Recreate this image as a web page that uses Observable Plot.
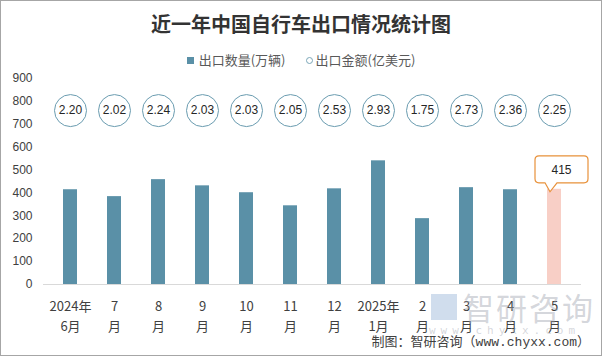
<!DOCTYPE html>
<html><head><meta charset="utf-8">
<script src="https://cdn.jsdelivr.net/npm/d3@7"></script>
<script src="https://cdn.jsdelivr.net/npm/@observablehq/plot@0.6"></script>
<style>
html,body{margin:0;padding:0;background:#fff;}
#wrap{position:relative;width:602px;height:356px;overflow:hidden;font-family:"Noto Sans CJK SC",sans-serif;background:#fff;}
#border{position:absolute;left:0;top:0;width:600px;height:354px;border:1px solid #a6a6a6;pointer-events:none;}
#title{position:absolute;top:10px;left:0;width:602px;text-align:center;font-size:20px;font-weight:bold;color:#333;line-height:28px;}
#legend{position:absolute;top:50px;left:0;width:602px;display:flex;justify-content:center;align-items:center;font-size:13px;color:#595959;line-height:20px;}
#legend .sq{width:7px;height:7px;background:#5a90a7;margin-right:5px;}
#legend .ring{width:5px;height:5px;border:1px solid #7aa6b8;border-radius:50%;margin-right:3px;}
#legend .item{display:flex;align-items:center;}
#chart{position:absolute;left:0;top:65px;}
#wm{position:absolute;left:425px;top:290px;color:rgba(160,165,175,0.45);pointer-events:none;}
#wm .big{font-size:31px;letter-spacing:2px;line-height:34px;padding-left:38px;}
#wm .logo{position:absolute;left:6px;top:4px;width:26px;height:26px;background:rgba(150,180,215,0.45);}
#wm .url{font-family:"DejaVu Sans Mono",monospace;font-size:11px;letter-spacing:5px;line-height:14px;padding-left:4px;}
#caption{position:absolute;right:12px;top:333px;font-size:13px;color:#404040;font-family:"Liberation Mono","Noto Sans CJK SC",monospace;line-height:20px;}
</style></head>
<body>
<div id="wrap">
  <div id="title">近一年中国自行车出口情况统计图</div>
  <div id="legend">
    <div class="item"><div class="sq"></div><span>出口数量(万辆)</span></div>
    <div class="item" style="margin-left:20px"><div class="ring"></div><span>出口金额(亿美元)</span></div>
  </div>
  <div id="chart"></div>
  <div id="wm"><div class="logo"></div><div class="big">智研咨询</div><div class="url">www.chyxx.com</div></div>
  <div id="caption">制图：智研咨询（www.chyxx.com）</div>
  <div id="border"></div>
</div>
<script>
const months = ["2024年\n6月","7\n月","8\n月","9\n月","10\n月","11\n月","12\n月","2025年\n1月","2\n月","3\n月","4\n月","5\n月"];
const quantity = [413, 383, 457, 430, 400, 343, 417, 539, 287, 422, 413, 415];
const value = [2.20, 2.02, 2.24, 2.03, 2.03, 2.05, 2.53, 2.93, 1.75, 2.73, 2.36, 2.25];
const yTicks = [0,100,200,300,400,500,600,700,800,900];
const LABEL_ROW = 758;

const data = months.map((m, i) => ({month: m, qty: quantity[i], val: value[i], last: i === months.length - 1}));
const lastRow = data[data.length - 1];

function callout(index, scales) {
  const x = scales.x, y = scales.y;
  let bw = 0;
  if (x.bandwidth != null) bw = typeof x.bandwidth === "function" ? x.bandwidth() : x.bandwidth;
  const cx = x(lastRow.month) + bw / 2;
  const top = y(lastRow.qty);
  const ns = "http://www.w3.org/2000/svg";
  const g = document.createElementNS(ns, "g");
  const L = cx - 19, R = cx + 34, T = top - 33, B = top - 6, r = 4;
  const d = `M${L + r},${T} H${R - r} Q${R},${T} ${R},${T + r} V${B - r} Q${R},${B} ${R - r},${B} H${cx + 3} L${cx - 4},${top + 3} L${cx - 9},${B} H${L + r} Q${L},${B} ${L},${B - r} V${T + r} Q${L},${T} ${L + r},${T} Z`;
  const p = document.createElementNS(ns, "path");
  p.setAttribute("d", d);
  p.setAttribute("fill", "white");
  p.setAttribute("stroke", "#e8913a");
  p.setAttribute("stroke-width", "1.2");
  g.appendChild(p);
  const t = document.createElementNS(ns, "text");
  t.setAttribute("x", cx + 7.5);
  t.setAttribute("y", top - 19);
  t.setAttribute("text-anchor", "middle");
  t.setAttribute("dominant-baseline", "central");
  t.setAttribute("font-size", "12");
  t.setAttribute("fill", "#262626");
  t.textContent = String(lastRow.qty);
  g.appendChild(t);
  return g;
}

const plot = Plot.plot({
  width: 602,
  height: 280,
  marginTop: 12.5,
  marginBottom: 61,
  marginLeft: 43,
  marginRight: 21,
  style: {fontFamily: "'Liberation Sans','Noto Sans CJK SC',sans-serif", color: "#404040", background: "transparent"},
  x: {domain: months, paddingInner: 0.69, paddingOuter: 0.345, label: null},
  y: {domain: [0, 900], label: null},
  marks: [
    Plot.barY(data.filter(d => !d.last), {x: "month", y: "qty", fill: "#5a90a7"}),
    Plot.barY(data.filter(d => d.last), {x: "month", y: "qty", fill: "#f8cfc6"}),
    Plot.ruleY([0], {stroke: "#d9d9d9", strokeWidth: 1}),
    Plot.axisY({ticks: yTicks, tickSize: 0, tickPadding: 11, fontSize: 12, label: null}),
    Plot.axisX({tickSize: 0, tickPadding: 12, fontSize: 13, lineHeight: 1.54, label: null, fontFamily: "'Noto Sans CJK SC',sans-serif"}),
    Plot.dot(data, {x: "month", y: () => LABEL_ROW, r: 16, stroke: "#6a9cb0", fill: "white", strokeWidth: 1}),
    Plot.text(data, {x: "month", y: () => LABEL_ROW, text: d => d.val.toFixed(2), fontSize: 12, fill: "#262626"}),
    callout
  ]
});
document.getElementById("chart").appendChild(plot);
</script>
</body></html>
